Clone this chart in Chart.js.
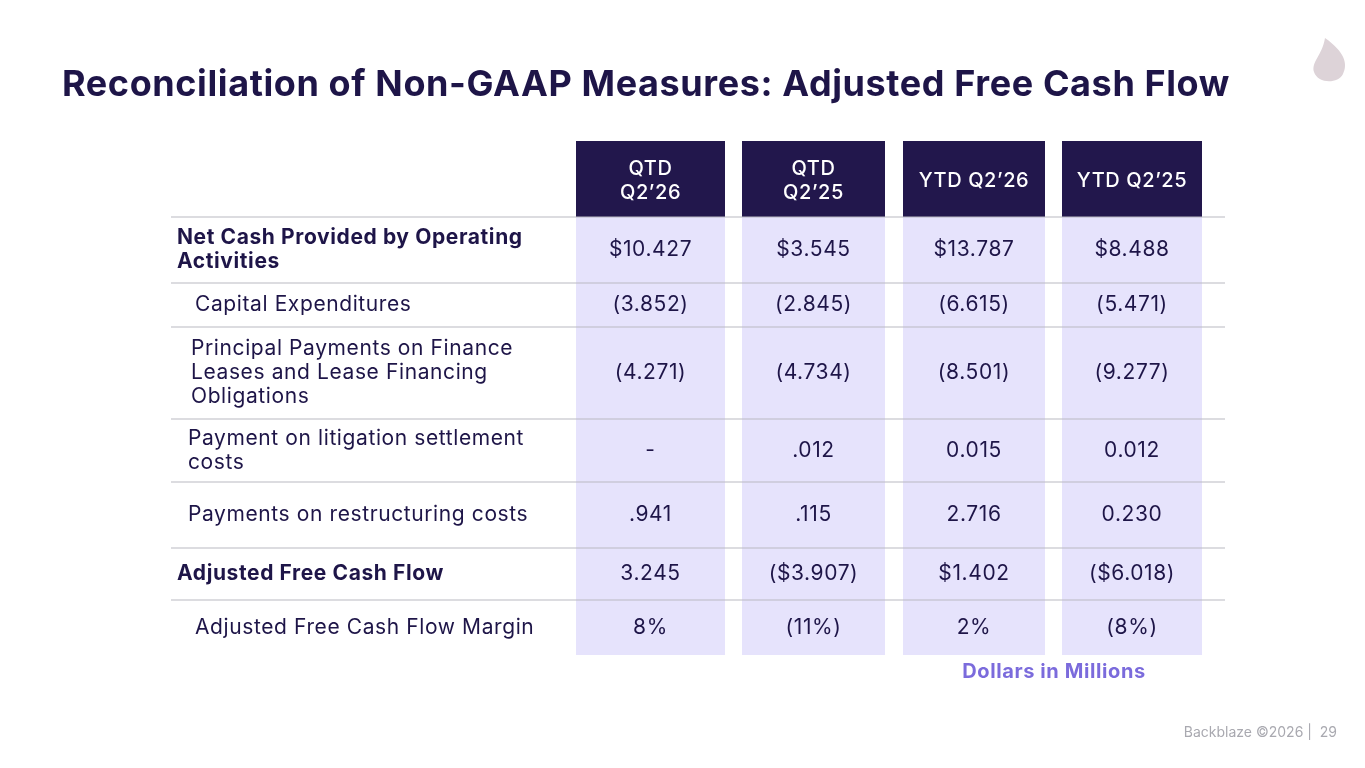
<!DOCTYPE html>
<html>
<head>
<meta charset="utf-8">
<script src="https://cdn.jsdelivr.net/npm/chart.js@4"></script>
<style>
  body { margin: 0; background: #fff; }
  canvas { display: block; }
</style>
</head>
<body>
<canvas id="table" width="1365" height="768"></canvas>
<script>
// Table data
const columns = [["QTD", "Q2’26"], ["QTD", "Q2’25"], ["YTD Q2’26"], ["YTD Q2’25"]];
const rowLabels = [
  ["Net Cash Provided by Operating", "Activities"],
  ["Capital Expenditures"],
  ["Principal Payments on Finance", "Leases and Lease Financing", "Obligations"],
  ["Payment on litigation settlement", "costs"],
  ["Payments on restructuring costs"],
  ["Adjusted Free Cash Flow"],
  ["Adjusted Free Cash Flow Margin"],
];
const boldRows = [0, 5];
const qtd26 = ["$10.427", "(3.852)", "(4.271)", "-", ".941", "3.245", "8%"];
const qtd25 = ["$3.545", "(2.845)", "(4.734)", ".012", ".115", "($3.907)", "(11%)"];
const ytd26 = ["$13.787", "(6.615)", "(8.501)", "0.015", "2.716", "$1.402", "2%"];
const ytd25 = ["$8.488", "(5.471)", "(9.277)", "0.012", "0.230", "($6.018)", "(8%)"];
const values = [qtd26, qtd25, ytd26, ytd25];

// Layout (page coordinates)
const colEdges = [[576, 725], [742, 885], [903, 1045], [1062, 1202]];
const rowEdges = [217, 283, 327, 419, 482, 548, 600, 655];
const labelX = [177, 195, 191, 188, 188, 177, 195];
const NAVY = "#1e1548";
const FONT = "Inter, 'Open Sans', sans-serif";

const tablePlugin = {
  id: "tablePlugin",
  afterDraw(chart) {
    const ctx = chart.ctx;
    const xs = chart.scales.x, ys = chart.scales.y;
    const X = v => xs.getPixelForValue(v), Y = v => ys.getPixelForValue(v);
    ctx.save();

    // title
    ctx.fillStyle = NAVY;
    ctx.font = "bold 36px " + FONT;
    ctx.letterSpacing = "0.6px";
    ctx.textBaseline = "alphabetic";
    ctx.textAlign = "left";
    ctx.fillText("Reconciliation of Non-GAAP Measures: Adjusted Free Cash Flow", X(62), Y(96));

    // flame logo
    ctx.fillStyle = "#ddd3d8";
    ctx.beginPath();
    ctx.moveTo(X(1325), Y(38));
    ctx.bezierCurveTo(X(1345), Y(52), X(1348), Y(64), X(1343), Y(74));
    ctx.bezierCurveTo(X(1338), Y(84), X(1318), Y(84), X(1314), Y(72));
    ctx.bezierCurveTo(X(1311), Y(62), X(1322), Y(56), X(1325), Y(38));
    ctx.fill();

    ctx.letterSpacing = "0.6px";
    // column backgrounds and headers
    colEdges.forEach(([a, b], i) => {
      ctx.fillStyle = "#e6e3fc";
      ctx.fillRect(X(a), Y(rowEdges[0]), X(b) - X(a), Y(rowEdges[rowEdges.length - 1]) - Y(rowEdges[0]));
      ctx.fillStyle = "#22174c";
      ctx.fillRect(X(a), Y(141), X(b) - X(a), Y(217) - Y(141));
      ctx.fillStyle = "#fff";
      ctx.font = "500 20px " + FONT;
      ctx.textAlign = "center";
      ctx.textBaseline = "middle";
      const lines = columns[i];
      const c = (a + b) / 2;
      lines.forEach((t, k) => ctx.fillText(t, X(c), Y(181 + (k - (lines.length - 1) / 2) * 24)));
    });

    // row lines
    ctx.strokeStyle = "#b9b9c2";
    ctx.lineWidth = 1.2;
    rowEdges.slice(0, -1).forEach(r => {
      ctx.beginPath();
      ctx.moveTo(X(171), Y(r));
      ctx.lineTo(X(1225), Y(r));
      ctx.stroke();
    });

    // rows
    rowLabels.forEach((lines, r) => {
      const mid = (rowEdges[r] + rowEdges[r + 1]) / 2;
      ctx.fillStyle = NAVY;
      ctx.textAlign = "left";
      ctx.textBaseline = "middle";
      ctx.font = (boldRows.includes(r) ? "bold " : "") + "21px " + FONT;
      lines.forEach((t, k) => ctx.fillText(t, X(labelX[r]), Y(mid + (k - (lines.length - 1) / 2) * 24)));
      ctx.font = "21px " + FONT;
      ctx.textAlign = "center";
      values.forEach((col, i) => {
        const c = (colEdges[i][0] + colEdges[i][1]) / 2;
        ctx.fillText(col[r], X(c), Y(mid));
      });
    });

    // notes
    ctx.fillStyle = "#7b6bdc";
    ctx.font = "bold 20px " + FONT;
    ctx.textAlign = "center";
    ctx.fillText("Dollars in Millions", X(1054), Y(672));
    ctx.letterSpacing = "0px";
    ctx.fillStyle = "#a9a9b0";
    ctx.font = "14px " + FONT;
    ctx.textAlign = "right";
    ctx.fillText("Backblaze ©2026 |  29", X(1337), Y(733));
    ctx.restore();
  }
};

new Chart(document.getElementById("table").getContext("2d"), {
  type: "scatter",
  data: { datasets: [] },
  options: {
    responsive: false,
    animation: false,
    layout: { padding: 0 },
    plugins: { legend: { display: false }, tooltip: { enabled: false } },
    scales: {
      x: { type: "linear", min: 0, max: 1365, display: false },
      y: { type: "linear", min: 0, max: 768, reverse: true, display: false },
    },
  },
  plugins: [tablePlugin],
});
</script>
</body>
</html>
